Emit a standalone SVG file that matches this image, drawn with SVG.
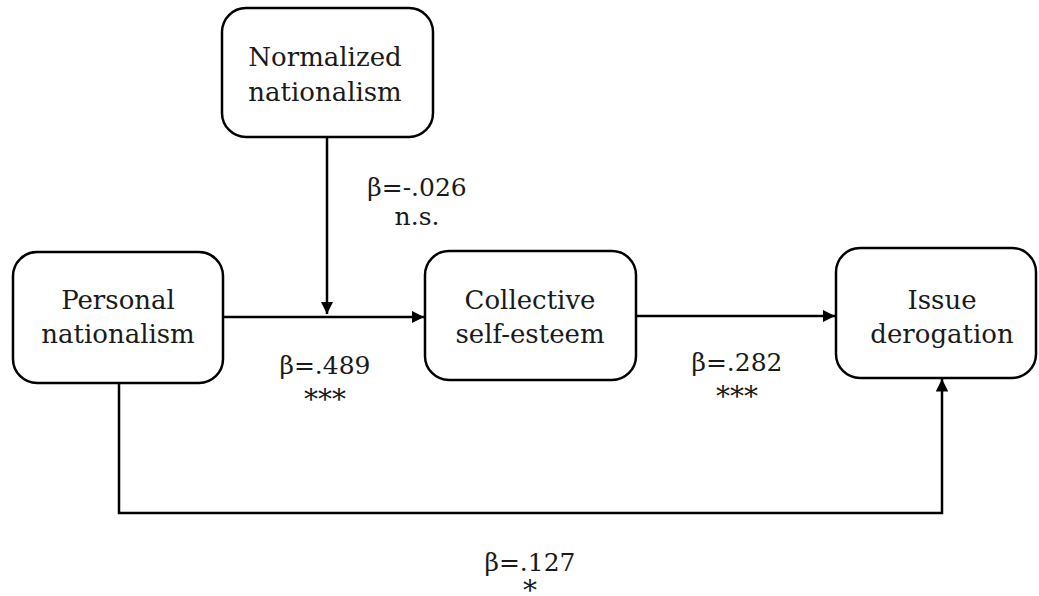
<svg xmlns="http://www.w3.org/2000/svg" width="1039" height="596" viewBox="0 0 1039 596">
<style>
.box{fill:#fff;stroke:#000;stroke-width:2.5}
.t{font-family:"DejaVu Serif","Liberation Serif",serif;font-size:26px;fill:#1a1a1a;text-anchor:middle}
.l{font-family:"DejaVu Serif","Liberation Serif",serif;font-size:25px;fill:#1a1a1a;text-anchor:middle}
.s{font-family:"DejaVu Serif","Liberation Serif",serif;font-size:28px;fill:#1a1a1a;text-anchor:middle}
.c{fill:none;stroke:#000;stroke-width:2.5}
</style>
<defs>
<marker id="ah" viewBox="0 0 10 10" refX="10" refY="5" markerWidth="5" markerHeight="5" markerUnits="strokeWidth" orient="auto">
<path d="M0,0 L10,5 L0,10 z" fill="#000"/>
</marker>
</defs>
<g id="connectors">
<line class="c" x1="223" y1="317" x2="424" y2="317" marker-end="url(#ah)"/>
<line class="c" x1="327" y1="137" x2="327" y2="314" marker-end="url(#ah)"/>
<line class="c" x1="636" y1="316" x2="835" y2="316" marker-end="url(#ah)"/>
<polyline class="c" points="119,383 119,513 942,513 942,379" marker-end="url(#ah)"/>
</g>
<g id="normalized">
<rect class="box" x="222" y="8" width="211" height="129" rx="24"/>
<text class="t" x="325" y="66">Normalized</text>
<text class="t" x="325" y="101">nationalism</text>
</g>
<g id="personal">
<rect class="box" x="13" y="252" width="210" height="131" rx="24"/>
<text class="t" x="118" y="309">Personal</text>
<text class="t" x="118" y="343">nationalism</text>
</g>
<g id="collective">
<rect class="box" x="425" y="251" width="211" height="129" rx="24"/>
<text class="t" x="530" y="309">Collective</text>
<text class="t" x="530" y="343">self-esteem</text>
</g>
<g id="issue">
<rect class="box" x="836" y="248" width="200" height="130" rx="24"/>
<text class="t" x="942" y="309">Issue</text>
<text class="t" x="942" y="343">derogation</text>
</g>
<g id="labels">
<text class="l" x="417" y="196">β=-.026</text>
<text class="l" x="417" y="225">n.s.</text>
<text class="l" x="325" y="374">β=.489</text>
<text class="s" x="325" y="409">***</text>
<text class="l" x="737" y="371">β=.282</text>
<text class="s" x="737" y="406">***</text>
<text class="l" x="530" y="571">β=.127</text>
<text class="s" x="530" y="600">*</text>
</g>
</svg>
